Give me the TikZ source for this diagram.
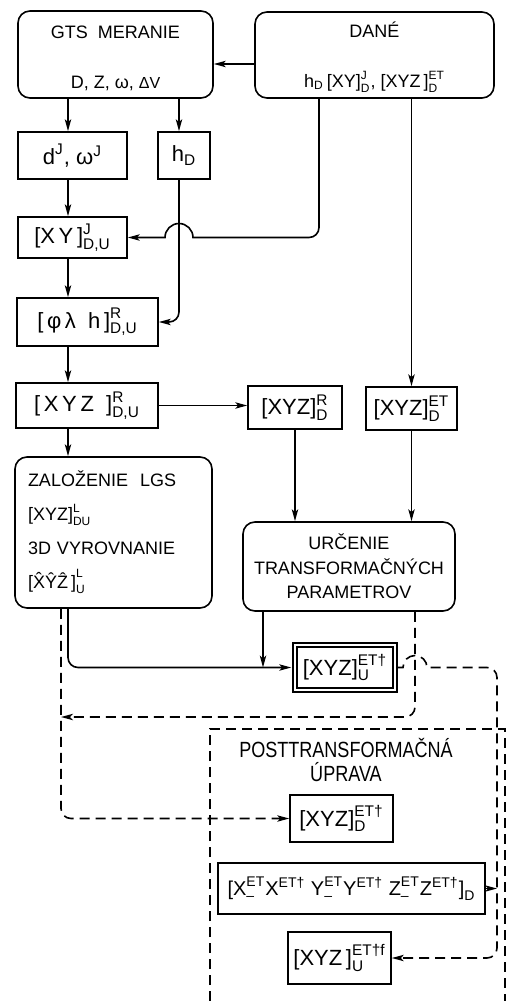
\documentclass[tikz,border=0pt]{standalone}
\usepackage{amsmath}
\usepackage{fontspec}
\setmainfont{Liberation Sans}
\newfontfamily\narrowfont{Liberation Sans}[FakeStretch=0.82]
\usetikzlibrary{arrows.meta,calc}

\newcommand{\ix}[3]{\ensuremath{\text{#1}^{\text{#2}}_{\text{#3}}}}
\newcommand{\ixsup}[2]{\ensuremath{\text{#1}^{\text{#2}}}}
\newcommand{\ixsub}[2]{\ensuremath{\text{#1}_{\text{#2}}}}

\begin{document}
\begin{tikzpicture}[x=0.5pt, y=-0.5pt, line width=0.8pt,
	font=\fontsize{9}{11}\selectfont,
	>={Stealth[length=6pt,width=3.2pt,inset=1.5pt]},
	box/.style 2 args={draw, minimum width=#1, minimum height=#2, inner sep=2pt},
	rbox/.style 2 args={box={#1}{#2}, rounded corners=6pt},
	fx/.style={font=\fontsize{11}{13}\selectfont},
	dashy/.style={dash pattern=on 5pt off 3pt}]
	
	\useasboundingbox (0,0) rectangle (507,1001);
	
	% Input boxes
	\node[rbox={97.5pt}{43.5pt}, align=center] (gts) at (115.5,54.5) {\rule{0pt}{10pt}GTS\ \ MERANIE\\[14pt] D, Z, ω, {\footnotesize ΔV}};
	\node[rbox={119.5pt}{43pt}, align=center] (dane) at (374.5,55) {\rule{0pt}{10pt}DANÉ\\[14pt] \ixsub{h}{D}\,\ix{[XY]}{J}{D}, \ix{[XYZ\,]}{ET}{D}};
	
	% Reduction chain
	\node[box={54.5pt}{23.5pt}, fx] (dj) at (72.5,155.5) {\ixsup{d}{J}, \ixsup{ω}{J}};
	\node[box={26pt}{23.5pt}, fx] (hd) at (184,155.5) {\ixsub{h}{D}};
	\node[box={54.5pt}{20.5pt}, fx] (xy) at (72.5,237.5) {\ix{[X\,Y\,]}{J}{D,U}};
	\node[box={70.5pt}{24pt}, fx] (plh) at (87.5,322) {\ix{[\,φ\,λ\ \ h\,]}{R}{D,U}};
	\node[box={71pt}{22.5pt}, fx] (xyzru) at (87,405.5) {\ix{[\,X\,Y\,Z\ \ ]}{R}{D,U}};
	\node[box={47pt}{21.5pt}, fx] (xyzrd) at (295,407.5) {\ix{[XYZ]}{R}{D}};
	\node[box={45.5pt}{21.5pt}, fx] (xyzet) at (411.5,408.5) {\ix{[XYZ]}{ET}{D}};
	
	% Adjustment and transformation
	\node[rbox={98.5pt}{75.5pt}, text width=85.5pt, align=left] (zal) at (113.5,532.5) {ZALOŽENIE\ \ LGS\\[6pt] \ix{[XYZ]}{L}{DU}\\[6pt] 3D VYROVNANIE\\[6pt] \ix{[\^X\^Y\^Z\,]}{L}{U}};
	\node[rbox={106pt}{44.5pt}, align=center] (urc) at (349,566.5) {URČENIE\\[1.3pt] TRANSFORMAČNÝCH\\[1.3pt] PARAMETROV};
	\node[box={50.2pt}{22.7pt}, fx, double, double distance=1.2pt] (xyzu) at (345,667.5) {\ix{[XYZ]}{ET†}{U}};
	
	% Post-transformation frame
	\draw[dashy] (210,1001) -- (210,729) -- (505,729) -- (505,1001);
	\node[align=center, font=\fontsize{11}{13}\narrowfont] (post) at (346,760) {POSTTRANSFORMAČNÁ\\[-1pt] ÚPRAVA};
	\node[box={51.5pt}{23.5pt}, fx] (xyzd) at (341.5,818.5) {\ix{[XYZ]}{ET†}{D}};
	\node[box={133.5pt}{25.5pt}, inner sep=1pt, font=\fontsize{10}{12}\selectfont] (diff) at (351.5,888.5) {[\ix{X}{ET}{–}X\ensuremath{^{\text{ET†}}}\ \ix{Y}{ET}{–}Y\ensuremath{^{\text{ET†}}}\ \ix{Z}{ET}{–}Z\ensuremath{^{\text{ET†}}}\ixsub{]}{D}};
	\node[box={51.5pt}{26pt}, fx] (xyzf) at (339.5,958) {\ix{[XYZ\,]}{ET†f}{U}};
	
	% Helper columns and rows
	\coordinate (colA) at (68,0);
	\coordinate (colB) at (179,0);
	\coordinate (colC) at (319,0);
	\coordinate (colF) at (61,0);
	\coordinate (colG) at (263,0);
	\coordinate (colH) at (415,0);
	\coordinate (colI) at (497,0);
	\coordinate (rowA) at (0,64);
	\coordinate (rowB) at (0,717);
	
	% Solid connectors
	\draw[->] (dane.west |- rowA) -- (gts.east |- rowA);
	\draw[->] (gts.south -| colA) -- (dj.north -| colA);
	\draw[->] (gts.south -| colB) -- (hd.north -| colB);
	\draw[->] (dj.south -| colA) -- (xy.north -| colA);
	\draw[->] (dane.south -| colC) -- ($(colC |- xy.east)+(0,-10)$) arc[start angle=0, end angle=-90, radius=5pt] -- ($(colB |- xy.east)+(14,0)$) arc[start angle=0, end angle=180, radius=7pt] -- (xy.east);
	\draw[->, rounded corners=5pt] (hd.south -| colB) -- (colB |- plh.east) -- (plh.east);
	\draw[->] (xy.south -| colA) -- (plh.north -| colA);
	\draw[->] (plh.south -| colA) -- (xyzru.north -| colA);
	\draw[->] (xyzru.east) -- (xyzru.east -| xyzrd.west);
	\draw[->] (dane.south -| xyzet) -- (xyzet.north);
	\draw[->] (xyzru.south -| colA) -- (zal.north -| colA);
	\draw[->] (xyzrd.south) -- (urc.north -| xyzrd);
	\draw[->] (xyzet.south) -- (urc.north -| xyzet);
	\draw[->, rounded corners=5pt, shorten >=1.4pt] (zal.south -| colA) -- (colA |- xyzu.west) -- (xyzu.west);
	\draw[->] (urc.south -| colG) -- (colG |- xyzu.west);
	
	% Dashed connectors
	\draw[dashy, ->, rounded corners=5pt] (urc.south -| colH) -- (colH |- rowB) -- (colF |- rowB);
	\draw[dashy, ->, rounded corners=5pt] (zal.south -| colF) -- (colF |- xyzd.west) -- (xyzd.west);
	\draw[dashy, ->] (xyzu.east) -- ($(colH |- xyzu.east)-(12,0)$) arc[start angle=180, end angle=0, radius=6pt] [rounded corners=5pt] -- (colI |- xyzu.east) -- (colI |- xyzf.east) -- (xyzf.east);
	\draw[->] (diff.east) -- (colI |- diff.east);
	
\end{tikzpicture}
\end{document}
